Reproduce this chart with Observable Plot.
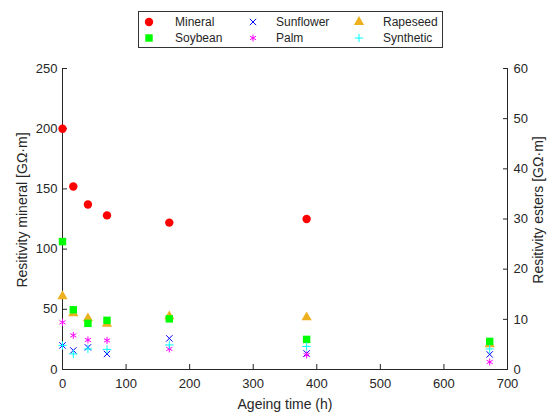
<!DOCTYPE html>
<html>
<head>
<meta charset="utf-8">
<script src="https://cdn.jsdelivr.net/npm/d3@7"></script>
<script src="https://cdn.jsdelivr.net/npm/@observablehq/plot@0.6"></script>
<style>
  body { margin: 0; background: #fff; font-family: "Liberation Sans", Arial, sans-serif; }
  #wrap { position: relative; width: 559px; height: 414px; }
  #legend { position: absolute; left: 138px; top: 11px; width: 305px; height: 37px; border: 1px solid #333; box-sizing: border-box; background: #fff; }
  .item { position: absolute; font-size: 12px; color: #262626; line-height: 14px; white-space: nowrap; }
  .mk { position: absolute; }
</style>
</head>
<body>
<div id="wrap"><div id="legend"></div></div>
<script>
// Data
const hours = [0, 17, 40, 70, 168, 384, 672];
const mineralHours = [0, 17, 40, 70, 168, 384];
const mineral = [200, 152, 137, 128, 122, 125];           // left axis, GΩ·m
const sunflower = [4.8, 3.8, 4.4, 3.1, 6.2, 3.2, 3.0];   // right axis, GΩ·m
const rapeseed = [14.6, 11.2, 10.2, 9.1, 10.6, 10.4, 5.0];
const soybean = [25.5, 11.9, 9.2, 9.8, 10.1, 6.0, 5.6];
const palm = [9.4, 6.8, 5.9, 5.8, 4.1, 2.9, 1.5];
const synthetic = [4.8, 3.1, 4.1, 4.0, 4.9, 4.6, 4.1];
const xTicks = [0, 100, 200, 300, 400, 500, 600, 700];
const leftTicks = [0, 50, 100, 150, 200, 250];
const rightTicks = [0, 10, 20, 30, 40, 50, 60];

const series = [
  {name: "Mineral", values: mineral, t: mineralHours, axis: "left", symbol: "circle", color: "#FF0000", filled: true, r: 4.2},
  {name: "Sunflower", values: sunflower, t: hours, axis: "right", symbol: "times", color: "#0000FF", filled: false, r: 3.0},
  {name: "Rapeseed", values: rapeseed, t: hours, axis: "right", symbol: "triangle", color: "#EDB120", filled: true, r: 3.8},
  {name: "Soybean", values: soybean, t: hours, axis: "right", symbol: "square", color: "#00FF00", filled: true, r: 4.2},
  {name: "Palm", values: palm, t: hours, axis: "right", symbol: "asterisk", color: "#FF00FF", filled: false, r: 3.3},
  {name: "Synthetic", values: synthetic, t: hours, axis: "right", symbol: "plus", color: "#00FFFF", filled: false, r: 2.8}
];

const leftMax = 250, rightMax = 60;
const toLeft = v => v * leftMax / rightMax;

const marks = [];
for (const s of series) {
  const rows = s.values.map((v, i) => ({t: s.t[i], y: s.axis === "left" ? v : toLeft(v)}));
  marks.push(Plot.dot(rows, {
    x: "t", y: "y", symbol: () => s.symbol, r: s.r,
    fill: s.filled ? s.color : "none",
    stroke: s.filled ? "none" : s.color,
    strokeWidth: 1
  }));
}

const ink = "#262626";
const chart = Plot.plot({
  width: 559, height: 414,
  marginLeft: 62, marginRight: 52, marginTop: 68, marginBottom: 45,
  style: {fontFamily: '"Liberation Sans", Arial, sans-serif', fontSize: "13px", color: ink, background: "transparent"},
  x: {domain: [0, 700]},
  y: {domain: [0, leftMax]},
  symbol: {type: "identity"},
  marks: [
    Plot.axisX(xTicks, {tickSize: -5, tickPadding: 14, label: null, stroke: ink, fill: ink, fontSize: 13}),
    Plot.axisY(leftTicks, {anchor: "left", tickSize: -5, tickPadding: 10, label: null, stroke: ink, fill: ink, fontSize: 13}),
    Plot.axisY(rightTicks.map(toLeft), {anchor: "right", tickSize: -5, tickPadding: 11, label: null, tickFormat: d => Math.round(d * rightMax / leftMax), stroke: ink, fill: ink, fontSize: 13}),
    Plot.ruleY([0], {stroke: ink, strokeWidth: 1}),
    Plot.ruleX([0], {stroke: ink, strokeWidth: 1}),
    Plot.ruleX([700], {stroke: ink, strokeWidth: 1}),
    ...marks,
    Plot.text(["Ageing time (h)"], {frameAnchor: "bottom", textAnchor: "middle", dy: 35, fontSize: 14, fill: ink, lineAnchor: "middle"}),
    Plot.text(["Resitivity mineral [GΩ·m]"], {frameAnchor: "left", textAnchor: "middle", rotate: -90, dx: -40, dy: -9, fontSize: 14, fill: ink, lineAnchor: "middle"}),
    Plot.text(["Resitivity esters [GΩ·m]"], {frameAnchor: "right", textAnchor: "middle", rotate: -90, dx: 31, dy: -9, fontSize: 14, fill: ink, lineAnchor: "middle"})
  ]
});
document.getElementById("wrap").prepend(chart);

// Legend (row-major, 3 columns)
const legend = document.getElementById("legend");
const colMarker = [149, 253, 359], colText = [175, 276, 383], rowY = [21.7, 38.3];
const symbolMap = {circle: d3.symbolCircle, times: d3.symbolTimes, triangle: d3.symbolTriangle, square: d3.symbolSquare, asterisk: d3.symbolAsterisk, plus: d3.symbolPlus};
series.forEach((s, i) => {
  const row = Math.floor(i / 3), col = i % 3;
  const cx = colMarker[col] - 138 - 1, cy = rowY[row] - 11 - 1;
  const svg = d3.create("svg").attr("class", "mk").attr("width", 14).attr("height", 14)
    .style("left", (cx - 7) + "px").style("top", (cy - 7) + "px");
  svg.append("path")
    .attr("transform", "translate(7,7)")
    .attr("d", d3.symbol(symbolMap[s.symbol], Math.PI * s.r * s.r)())
    .attr("fill", s.filled ? s.color : "none")
    .attr("stroke", s.filled ? "none" : s.color)
    .attr("stroke-width", 1);
  legend.appendChild(svg.node());
  const t = document.createElement("div");
  t.className = "item";
  t.textContent = s.name;
  t.style.left = (colText[col] - 138 - 1) + "px";
  t.style.top = (cy - 7) + "px";
  legend.appendChild(t);
});
</script>
</body>
</html>
